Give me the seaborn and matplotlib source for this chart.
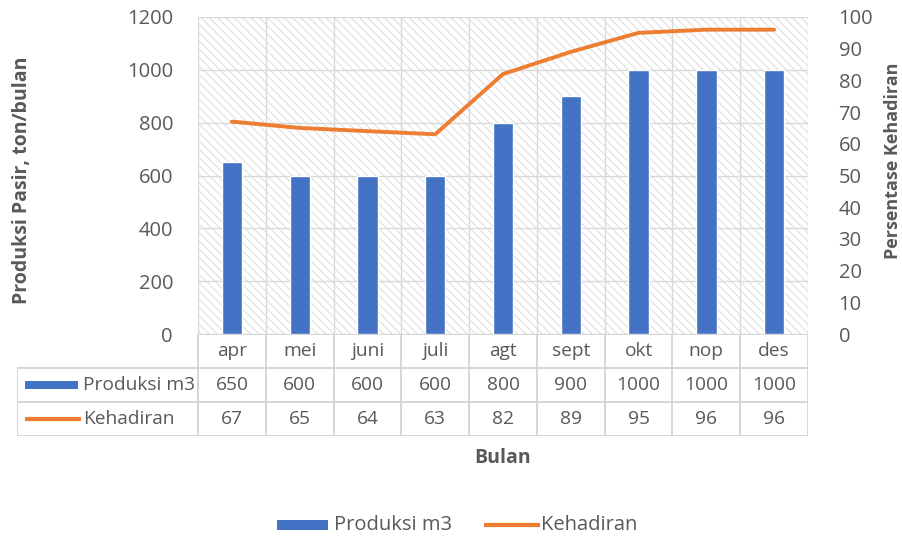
import matplotlib
matplotlib.use("Agg")
import matplotlib.pyplot as plt
from matplotlib.patches import Rectangle
import seaborn as sns
import numpy as np
import pandas as pd

# Monthly data
bulan = ["apr", "mei", "juni", "juli", "agt", "sept", "okt", "nop", "des"]
produksi = [650, 600, 600, 600, 800, 900, 1000, 1000, 1000]
kehadiran = [67, 65, 64, 63, 82, 89, 95, 96, 96]
left_ticks = [0, 200, 400, 600, 800, 1000, 1200]
right_ticks = [0, 10, 20, 30, 40, 50, 60, 70, 80, 90, 100]

BLUE = "#4472C4"
ORANGE = "#ED7D31"
TEXT = "#595959"
GRID = "#D9D9D9"
HATCH = "#D8D8D8"
FS = 14.5      # tick text size
FS_TAB = 13.8  # data-table text size
FS_LAB = 14    # axis titles

sns.set_theme(style="white")
plt.rcParams["font.family"] = ["Open Sans", "DejaVu Sans"]
plt.rcParams["hatch.color"] = HATCH
plt.rcParams["hatch.linewidth"] = 0.65

df = pd.DataFrame({"bulan": bulan, "produksi": produksi, "kehadiran": kehadiran})
x = np.arange(len(bulan))

W, H = 902, 540
fig = plt.figure(figsize=(W / 100, H / 100), dpi=100)

def fx(px):
    return px / W

def fy(py):
    return (H - py) / H

L, R, T, B = 198, 808, 17, 334
ax = fig.add_axes([fx(L), fy(B), fx(R - L), (B - T) / H])

# hatched plot-area background
ax.add_patch(Rectangle((0, 0), 1, 1, transform=ax.transAxes, facecolor="white",
                       edgecolor=HATCH, hatch="\\\\\\\\", linewidth=0, zorder=0))

for yv in left_ticks:
    ax.axhline(yv, color=GRID, lw=1.0, zorder=1)
for k in range(len(bulan) + 1):
    ax.axvline(k - 0.5, color=GRID, lw=1.0, zorder=1)

sns.barplot(data=df, x="bulan", y="produksi", color=BLUE, width=0.3,
            saturation=1, ax=ax, zorder=2)
ax.set_xlim(-0.5, len(bulan) - 0.5)
ax.set_ylim(0, 1200)
ax.set_yticks(left_ticks)
ax.set_yticklabels([str(v) for v in left_ticks], fontsize=FS, color=TEXT)
ax.set_xticks([])
ax.set_xlabel("")
ax.set_ylabel("")
ax.tick_params(axis="y", length=0, pad=18)
for s in ax.spines.values():
    s.set_visible(False)

ax2 = ax.twinx()
sns.lineplot(x=x, y=kehadiran, color=ORANGE, lw=2.8, ax=ax2, zorder=3)
ax2.set_ylim(0, 100)
ax2.set_xlim(-0.5, len(bulan) - 0.5)
ax2.set_yticks(right_ticks)
ax2.set_yticklabels([str(v) for v in right_ticks], fontsize=FS, color=TEXT,
                    ha="left")
ax2.tick_params(axis="y", length=0, pad=22)
ax2.set_ylabel("")
ax2.grid(False)
for s in ax2.spines.values():
    s.set_visible(False)

fig.text(fx(22), fy(180), "Produksi Pasir, ton/bulan", rotation=90, ha="center",
         va="center", fontsize=FS_LAB, fontweight="bold", color=TEXT)
fig.text(fx(893), fy(161), "Persentase Kehadiran", rotation=90, ha="center",
         va="center", fontsize=13, fontweight="bold", color=TEXT)

# data table below the plot
TBL_L, TBL_B = 17, 436
cat_w = (R - L) / len(bulan)
extra = (L - TBL_L) / cat_w
tab = fig.add_axes([fx(TBL_L), fy(TBL_B), fx(R - TBL_L), (TBL_B - B) / H])
tab.set_xlim(-0.5 - extra, len(bulan) - 0.5)
tab.set_ylim(3, 0)
tab.axis("off")
BORDER = "#D3D3D3"
x0 = -0.5 - extra
xe = len(bulan) - 0.5
tab.plot([-0.5, xe], [0, 0], color=BORDER, lw=1.3)
for r in (1, 2, 3):
    tab.plot([x0, xe], [r, r], color=BORDER, lw=1.3)
tab.plot([x0, x0], [1, 3], color=BORDER, lw=1.3)
for k in range(len(bulan) + 1):
    tab.plot([k - 0.5, k - 0.5], [0, 3], color=BORDER, lw=1.3)

for i, b in enumerate(bulan):
    tab.text(i, 0.5, b, ha="center", va="center", fontsize=FS_TAB, color=TEXT)
    tab.text(i, 1.5, str(produksi[i]), ha="center", va="center", fontsize=FS_TAB, color=TEXT)
    tab.text(i, 2.5, str(kehadiran[i]), ha="center", va="center", fontsize=FS_TAB, color=TEXT)

kx0 = x0 + 8 / cat_w
kx1 = x0 + 61 / cat_w
tab.add_patch(Rectangle((kx0, 1.38), kx1 - kx0, 0.24, facecolor=BLUE, edgecolor="none"))
tab.plot([kx0, kx1 + 3 / cat_w], [2.5, 2.5], color=ORANGE, lw=3, solid_capstyle="butt")
tab.text(x0 + 66 / cat_w, 1.5, "Produksi m3", ha="left", va="center", fontsize=FS_TAB, color=TEXT)
tab.text(x0 + 66 / cat_w, 2.5, "Kehadiran", ha="left", va="center", fontsize=FS_TAB, color=TEXT)

fig.text(fx(503), fy(458), "Bulan", ha="center", va="center", fontsize=FS_LAB,
         fontweight="bold", color=TEXT)

# legend row at the bottom
leg = fig.add_axes([0, 0, 1, 1], facecolor="none")
leg.set_xlim(0, W)
leg.set_ylim(H, 0)
leg.axis("off")
leg.add_patch(Rectangle((277, 520), 51, 10, facecolor=BLUE, edgecolor="none"))
leg.text(334, 525, "Produksi m3", ha="left", va="center", fontsize=FS, color=TEXT)
leg.plot([484, 540], [525, 525], color=ORANGE, lw=3, solid_capstyle="butt")
leg.text(541, 525, "Kehadiran", ha="left", va="center", fontsize=FS, color=TEXT)

fig.savefig("out.png", dpi=100, facecolor="white")
